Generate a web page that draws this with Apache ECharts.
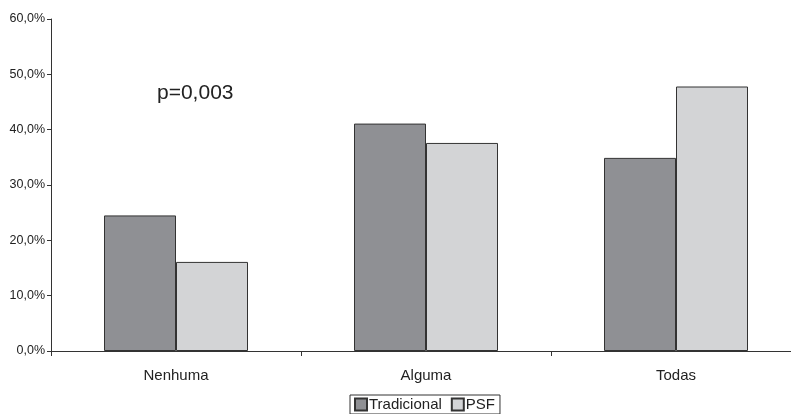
<!DOCTYPE html>
<html>
<head>
<meta charset="utf-8">
<script src="https://cdn.jsdelivr.net/npm/echarts@6/dist/echarts.min.js"></script>
<style>
  html, body { margin: 0; padding: 0; background: #fff; overflow: hidden; }
  #chart { width: 801px; height: 414px; }
</style>
</head>
<body>
<div id="chart"></div>
<script>
// Categories and percentages per group
const categories = ['Nenhuma', 'Alguma', 'Todas'];
const tradicional = [24.5, 41.1, 34.9];
const psf = [16.1, 37.6, 47.8];
const yTicks = [0, 10, 20, 30, 40, 50, 60];
const note = 'p=0,003';

const chart = echarts.init(document.getElementById('chart'));
const fmt = v => v.toFixed(1).replace('.', ',') + '%';

chart.setOption({
  animation: false,
  backgroundColor: '#ffffff',
  textStyle: { fontFamily: 'Arial, "Liberation Sans", sans-serif' },
  grid: { left: 51, top: 19, width: 750, height: 332, containLabel: false },
  legend: {
    data: ['Tradicional', 'PSF'],
    left: 350,
    top: 395,
    padding: [2, 5, 2, 4],
    itemGap: 9,
    itemWidth: 12,
    itemHeight: 12,
    borderColor: '#333',
    borderWidth: 1,
    textStyle: { fontSize: 15, color: '#222', padding: [0, 0, 0, -3] },
    icon: 'rect'
  },
  xAxis: {
    type: 'category',
    data: categories,
    axisLine: { lineStyle: { color: '#333', width: 1 } },
    axisTick: { show: true, length: 5, lineStyle: { color: '#333' } },
    axisLabel: { fontSize: 15, color: '#222', margin: 17 }
  },
  yAxis: {
    type: 'value',
    min: yTicks[0],
    max: yTicks[yTicks.length - 1],
    interval: 10,
    axisLine: { show: true, lineStyle: { color: '#333', width: 1 } },
    axisTick: { show: true, length: 4, lineStyle: { color: '#333' } },
    splitLine: { show: false },
    axisLabel: { fontSize: 12.5, color: '#222', margin: 6, formatter: fmt }
  },
  series: [
    {
      name: 'Tradicional',
      type: 'bar',
      data: tradicional,
      barWidth: 72,
      barGap: '0%',
      itemStyle: { color: '#8f9094', borderColor: '#333', borderWidth: 1 }
    },
    {
      name: 'PSF',
      type: 'bar',
      data: psf,
      barWidth: 72,
      itemStyle: { color: '#d3d4d6', borderColor: '#333', borderWidth: 1 }
    }
  ],
  graphic: [{
    type: 'text',
    left: 157,
    top: 83,
    style: { text: note, fontSize: 21, fill: '#222', fontFamily: 'Arial, "Liberation Sans", sans-serif' }
  }]
});
</script>
</body>
</html>
